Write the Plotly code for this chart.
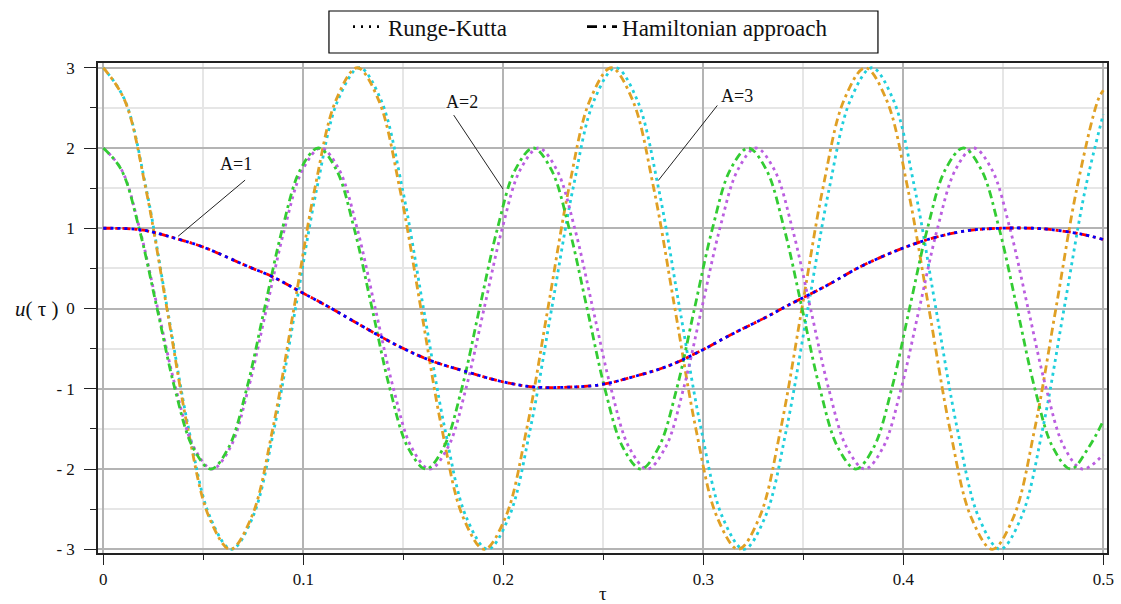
import plotly.graph_objects as go

# ---------------- data ----------------
# A = 1  (Hamiltonian and Runge-Kutta practically coincide)
tau_A1 = [0, 0.019, 0.0367, 0.05, 0.0727, 0.0843, 0.1, 0.111, 0.126, 0.1485,
          0.165, 0.182, 0.1985, 0.215, 0.232, 0.2485, 0.265, 0.282, 0.2985,
          0.3135, 0.332, 0.342, 0.362, 0.3785, 0.3985, 0.415, 0.432, 0.4485,
          0.465, 0.475, 0.4885, 0.5]
u_A1_ham = [1.0, 0.98, 0.87, 0.765, 0.52, 0.40, 0.19, 0.044, -0.17, -0.48,
            -0.66, -0.79, -0.906, -0.977, -0.98, -0.95, -0.85, -0.72, -0.53,
            -0.33, -0.10, 0.035, 0.29, 0.52, 0.74, 0.88, 0.97, 1.0,
            1.0, 0.98, 0.93, 0.86]
u_A1_rk = [1.0, 0.98, 0.87, 0.765, 0.52, 0.40, 0.19, 0.044, -0.17, -0.48,
           -0.66, -0.79, -0.906, -0.977, -0.98, -0.95, -0.85, -0.72, -0.53,
           -0.33, -0.10, 0.035, 0.29, 0.52, 0.74, 0.88, 0.97, 1.0,
           1.0, 0.98, 0.93, 0.86]

# A = 2, Hamiltonian approach (green)
tau_A2_ham = [0, 0.009, 0.0179, 0.0269, 0.0358, 0.0448, 0.0538, 0.0627, 0.0717,
              0.0806, 0.0896, 0.0985, 0.1075, 0.1165, 0.1254, 0.1344, 0.1433,
              0.1523, 0.1613, 0.1702, 0.1792, 0.1881, 0.1971, 0.206, 0.215,
              0.224, 0.2329, 0.2419, 0.2508, 0.2598, 0.2688, 0.2777, 0.2867,
              0.2956, 0.3046, 0.3135, 0.3225, 0.3315, 0.3404, 0.3494, 0.3583,
              0.3673, 0.3763, 0.3852, 0.3942, 0.4031, 0.4121, 0.421, 0.43,
              0.439, 0.4479, 0.4569, 0.4658, 0.4748, 0.4838, 0.4927, 0.5]
u_A2_ham = [2, 1.73, 1, 0, -1, -1.73, -2, -1.73, -1,
            0, 1, 1.73, 2, 1.73, 1, 0, -1,
            -1.73, -2, -1.73, -1, 0, 1, 1.73, 2,
            1.73, 1, 0, -1, -1.73, -2, -1.73, -1,
            0, 1, 1.73, 2, 1.73, 1, 0, -1,
            -1.73, -2, -1.73, -1, 0, 1, 1.73, 2,
            1.73, 1, 0, -1, -1.73, -2, -1.73, -1.4]

# A = 2, Runge-Kutta (purple)
tau_A2_rk = [0, 0.0091, 0.0181, 0.0272, 0.0363, 0.0453, 0.0544, 0.0635, 0.0725,
             0.0816, 0.0907, 0.0997, 0.1088, 0.1179, 0.1269, 0.136, 0.1451,
             0.1541, 0.1632, 0.1723, 0.1813, 0.1904, 0.1995, 0.2085, 0.2176,
             0.2267, 0.2357, 0.2448, 0.2539, 0.2629, 0.272, 0.2811, 0.2901,
             0.2992, 0.3083, 0.3173, 0.3264, 0.3355, 0.3445, 0.3536, 0.3627,
             0.3717, 0.3808, 0.3899, 0.3989, 0.408, 0.4171, 0.4261, 0.4352,
             0.4443, 0.4533, 0.4624, 0.4715, 0.4805, 0.4896, 0.5]
u_A2_rk = [2, 1.73, 1, 0, -1, -1.73, -2, -1.73, -1,
           0, 1, 1.73, 2, 1.73, 1, 0, -1,
           -1.73, -2, -1.73, -1, 0, 1, 1.73, 2,
           1.73, 1, 0, -1, -1.73, -2, -1.73, -1,
           0, 1, 1.73, 2, 1.73, 1, 0, -1,
           -1.73, -2, -1.73, -1, 0, 1, 1.73, 2,
           1.73, 1, 0, -1, -1.73, -2, -1.82]

# A = 3, Hamiltonian approach (orange)
tau_A3_ham = [0, 0.0106, 0.0212, 0.0318, 0.0423, 0.0529, 0.0635, 0.0741, 0.0847,
              0.0953, 0.1058, 0.1164, 0.127, 0.1376, 0.1482, 0.1588, 0.1693,
              0.1799, 0.1905, 0.2011, 0.2117, 0.2223, 0.2328, 0.2434, 0.254,
              0.2646, 0.2752, 0.2858, 0.2963, 0.3069, 0.3175, 0.3281, 0.3387,
              0.3493, 0.3598, 0.3704, 0.381, 0.3916, 0.4022, 0.4128, 0.4233,
              0.4339, 0.4445, 0.4551, 0.4657, 0.4763, 0.4868, 0.4974, 0.5]
u_A3_ham = [3, 2.6, 1.5, 0, -1.5, -2.6, -3, -2.6, -1.5,
            0, 1.5, 2.6, 3, 2.6, 1.5, 0, -1.5,
            -2.6, -3, -2.6, -1.5, 0, 1.5, 2.6, 3,
            2.6, 1.5, 0, -1.5, -2.6, -3, -2.6, -1.5,
            0, 1.5, 2.6, 3, 2.6, 1.5, 0, -1.5,
            -2.6, -3, -2.6, -1.5, 0, 1.5, 2.6, 2.72]

# A = 3, Runge-Kutta (cyan)
tau_A3_rk = [0, 0.0107, 0.0214, 0.032, 0.0427, 0.0534, 0.0641, 0.0747, 0.0854,
             0.0961, 0.1068, 0.1174, 0.1281, 0.1388, 0.1495, 0.1601, 0.1708,
             0.1815, 0.1922, 0.2028, 0.2135, 0.2242, 0.2349, 0.2455, 0.2562,
             0.2669, 0.2776, 0.2882, 0.2989, 0.3096, 0.3203, 0.3309, 0.3416,
             0.3523, 0.363, 0.3736, 0.3843, 0.395, 0.4057, 0.4163, 0.427,
             0.4377, 0.4484, 0.459, 0.4697, 0.4804, 0.4911, 0.5]
u_A3_rk = [3, 2.6, 1.5, 0, -1.5, -2.6, -3, -2.6, -1.5,
           0, 1.5, 2.6, 3, 2.6, 1.5, 0, -1.5,
           -2.6, -3, -2.6, -1.5, 0, 1.5, 2.6, 3,
           2.6, 1.5, 0, -1.5, -2.6, -3, -2.6, -1.5,
           0, 1.5, 2.6, 3, 2.6, 1.5, 0, -1.5,
           -2.6, -3, -2.6, -1.5, 0, 1.5, 2.42]

x_ticks = [0, 0.1, 0.2, 0.3, 0.4, 0.5]
x_ticktext = ["0", "0.1", "0.2", "0.3", "0.4", "0.5"]
y_ticks = [-3, -2, -1, 0, 1, 2, 3]
y_ticktext = ["- 3", "- 2", "- 1", "0", "1", "2", "3"]

labels = ["A=1", "A=2", "A=3"]
label_pos = [(0.0665, 1.80), (0.1794, 2.57), (0.317, 2.65)]
leader_lines = [((0.0709, 1.60), (0.0374, 0.90)),
                ((0.1752, 2.41), (0.1998, 1.49)),
                ((0.307, 2.53), (0.2775, 1.595))]

legend_names = ["Runge-Kutta", "Hamiltonian approach"]

# ---------------- styles ----------------
FONT = "Liberation Serif"
DOT = "3px,4px"
DASHDOT = "8px,4px,3px,4px"
LW = 2.8

fig = go.Figure()

def add(x, y, color, dash):
    fig.add_trace(go.Scatter(x=x, y=y, mode="lines", showlegend=False,
                             hoverinfo="skip",
                             line=dict(color=color, width=LW, dash=dash,
                                       shape="spline", smoothing=1.0)))

add(tau_A3_rk, u_A3_rk, "#1fcfdc", DOT)
add(tau_A3_ham, u_A3_ham, "#e0a024", DASHDOT)
add(tau_A2_rk, u_A2_rk, "#bb5ee0", DOT)
add(tau_A2_ham, u_A2_ham, "#33cc33", DASHDOT)
add(tau_A1, u_A1_ham, "#ff0000", DASHDOT)
add(tau_A1, u_A1_rk, "#0000ff", DOT)

# legend entries (black samples), each in its own legend for exact placement
fig.add_trace(go.Scatter(x=[None], y=[None], mode="lines", name=legend_names[0],
                         legend="legend",
                         line=dict(color="black", width=2.6, dash="2px,6px")))
fig.add_trace(go.Scatter(x=[None], y=[None], mode="lines", name=legend_names[1],
                         legend="legend2",
                         line=dict(color="black", width=2.6, dash="10px,6px,3px,6px")))

# legend frame
fig.add_shape(type="rect", xref="paper", yref="paper",
              x0=0.2289, x1=0.773, y0=1.0204, y1=1.1061,
              line=dict(color="black", width=1.2), fillcolor="rgba(0,0,0,0)")

for (p0, p1) in leader_lines:
    fig.add_shape(type="line", xref="x", yref="y", x0=p0[0], y0=p0[1],
                  x1=p1[0], y1=p1[1], line=dict(color="#222222", width=1))

for txt, (px, py) in zip(labels, label_pos):
    fig.add_annotation(x=px, y=py, xref="x", yref="y", text=txt, showarrow=False,
                       font=dict(family=FONT, size=18, color="#111111"),
                       bgcolor="white", borderpad=0)

fig.add_annotation(x=-0.0614, y=0, xref="paper", yref="y", text="<i>u</i>( τ )",
                   showarrow=False, xanchor="center", yanchor="middle",
                   font=dict(family=FONT, size=21, color="#111111"))
fig.add_annotation(x=0.25, y=-0.082, xref="x", yref="paper", text="τ",
                   showarrow=False, xanchor="center", yanchor="middle",
                   font=dict(family=FONT, size=19, color="#111111"))

leg_common = dict(orientation="h", yanchor="top", xanchor="left", y=1.118,
                  borderwidth=0, bgcolor="rgba(0,0,0,0)",
                  font=dict(family=FONT, size=23))

fig.update_layout(
    width=1121, height=604,
    margin=dict(l=98, r=14, t=63, b=51, autoexpand=False),
    paper_bgcolor="white", plot_bgcolor="white",
    font=dict(family=FONT, size=17, color="#111111"),
    legend=dict(x=0.2478, **leg_common),
    legend2=dict(x=0.4797, **leg_common),
)

fig.update_xaxes(range=[-0.00265, 0.50185], tickvals=x_ticks, ticktext=x_ticktext,
                 showline=True, linecolor="#222222", linewidth=1.5, mirror=True,
                 ticks="outside", ticklen=10, tickwidth=1.3, tickcolor="#222222",
                 showgrid=True, gridcolor="#b4b4b4", gridwidth=1.5, zeroline=False,
                 tickfont=dict(family=FONT, size=17, color="#111111"),
                 minor=dict(dtick=0.05, tick0=0, showgrid=True, gridcolor="#e6e6e6",
                            gridwidth=1.5, ticks="outside", ticklen=5,
                            tickcolor="#222222", tickwidth=1.3))
fig.update_yaxes(range=[-3.046, 3.059], tickvals=y_ticks, ticktext=y_ticktext,
                 showline=True, linecolor="#222222", linewidth=1.5, mirror=True,
                 ticks="outside", ticklen=12, tickwidth=1.3, tickcolor="#222222",
                 ticklabelstandoff=6,
                 showgrid=True, gridcolor="#b4b4b4", gridwidth=1.5, zeroline=False,
                 tickfont=dict(family=FONT, size=17, color="#111111"),
                 minor=dict(dtick=0.5, tick0=0, showgrid=True, gridcolor="#e6e6e6",
                            gridwidth=1.5, ticks="outside", ticklen=6,
                            tickcolor="#222222", tickwidth=1.3))

fig.write_html("out.html")
